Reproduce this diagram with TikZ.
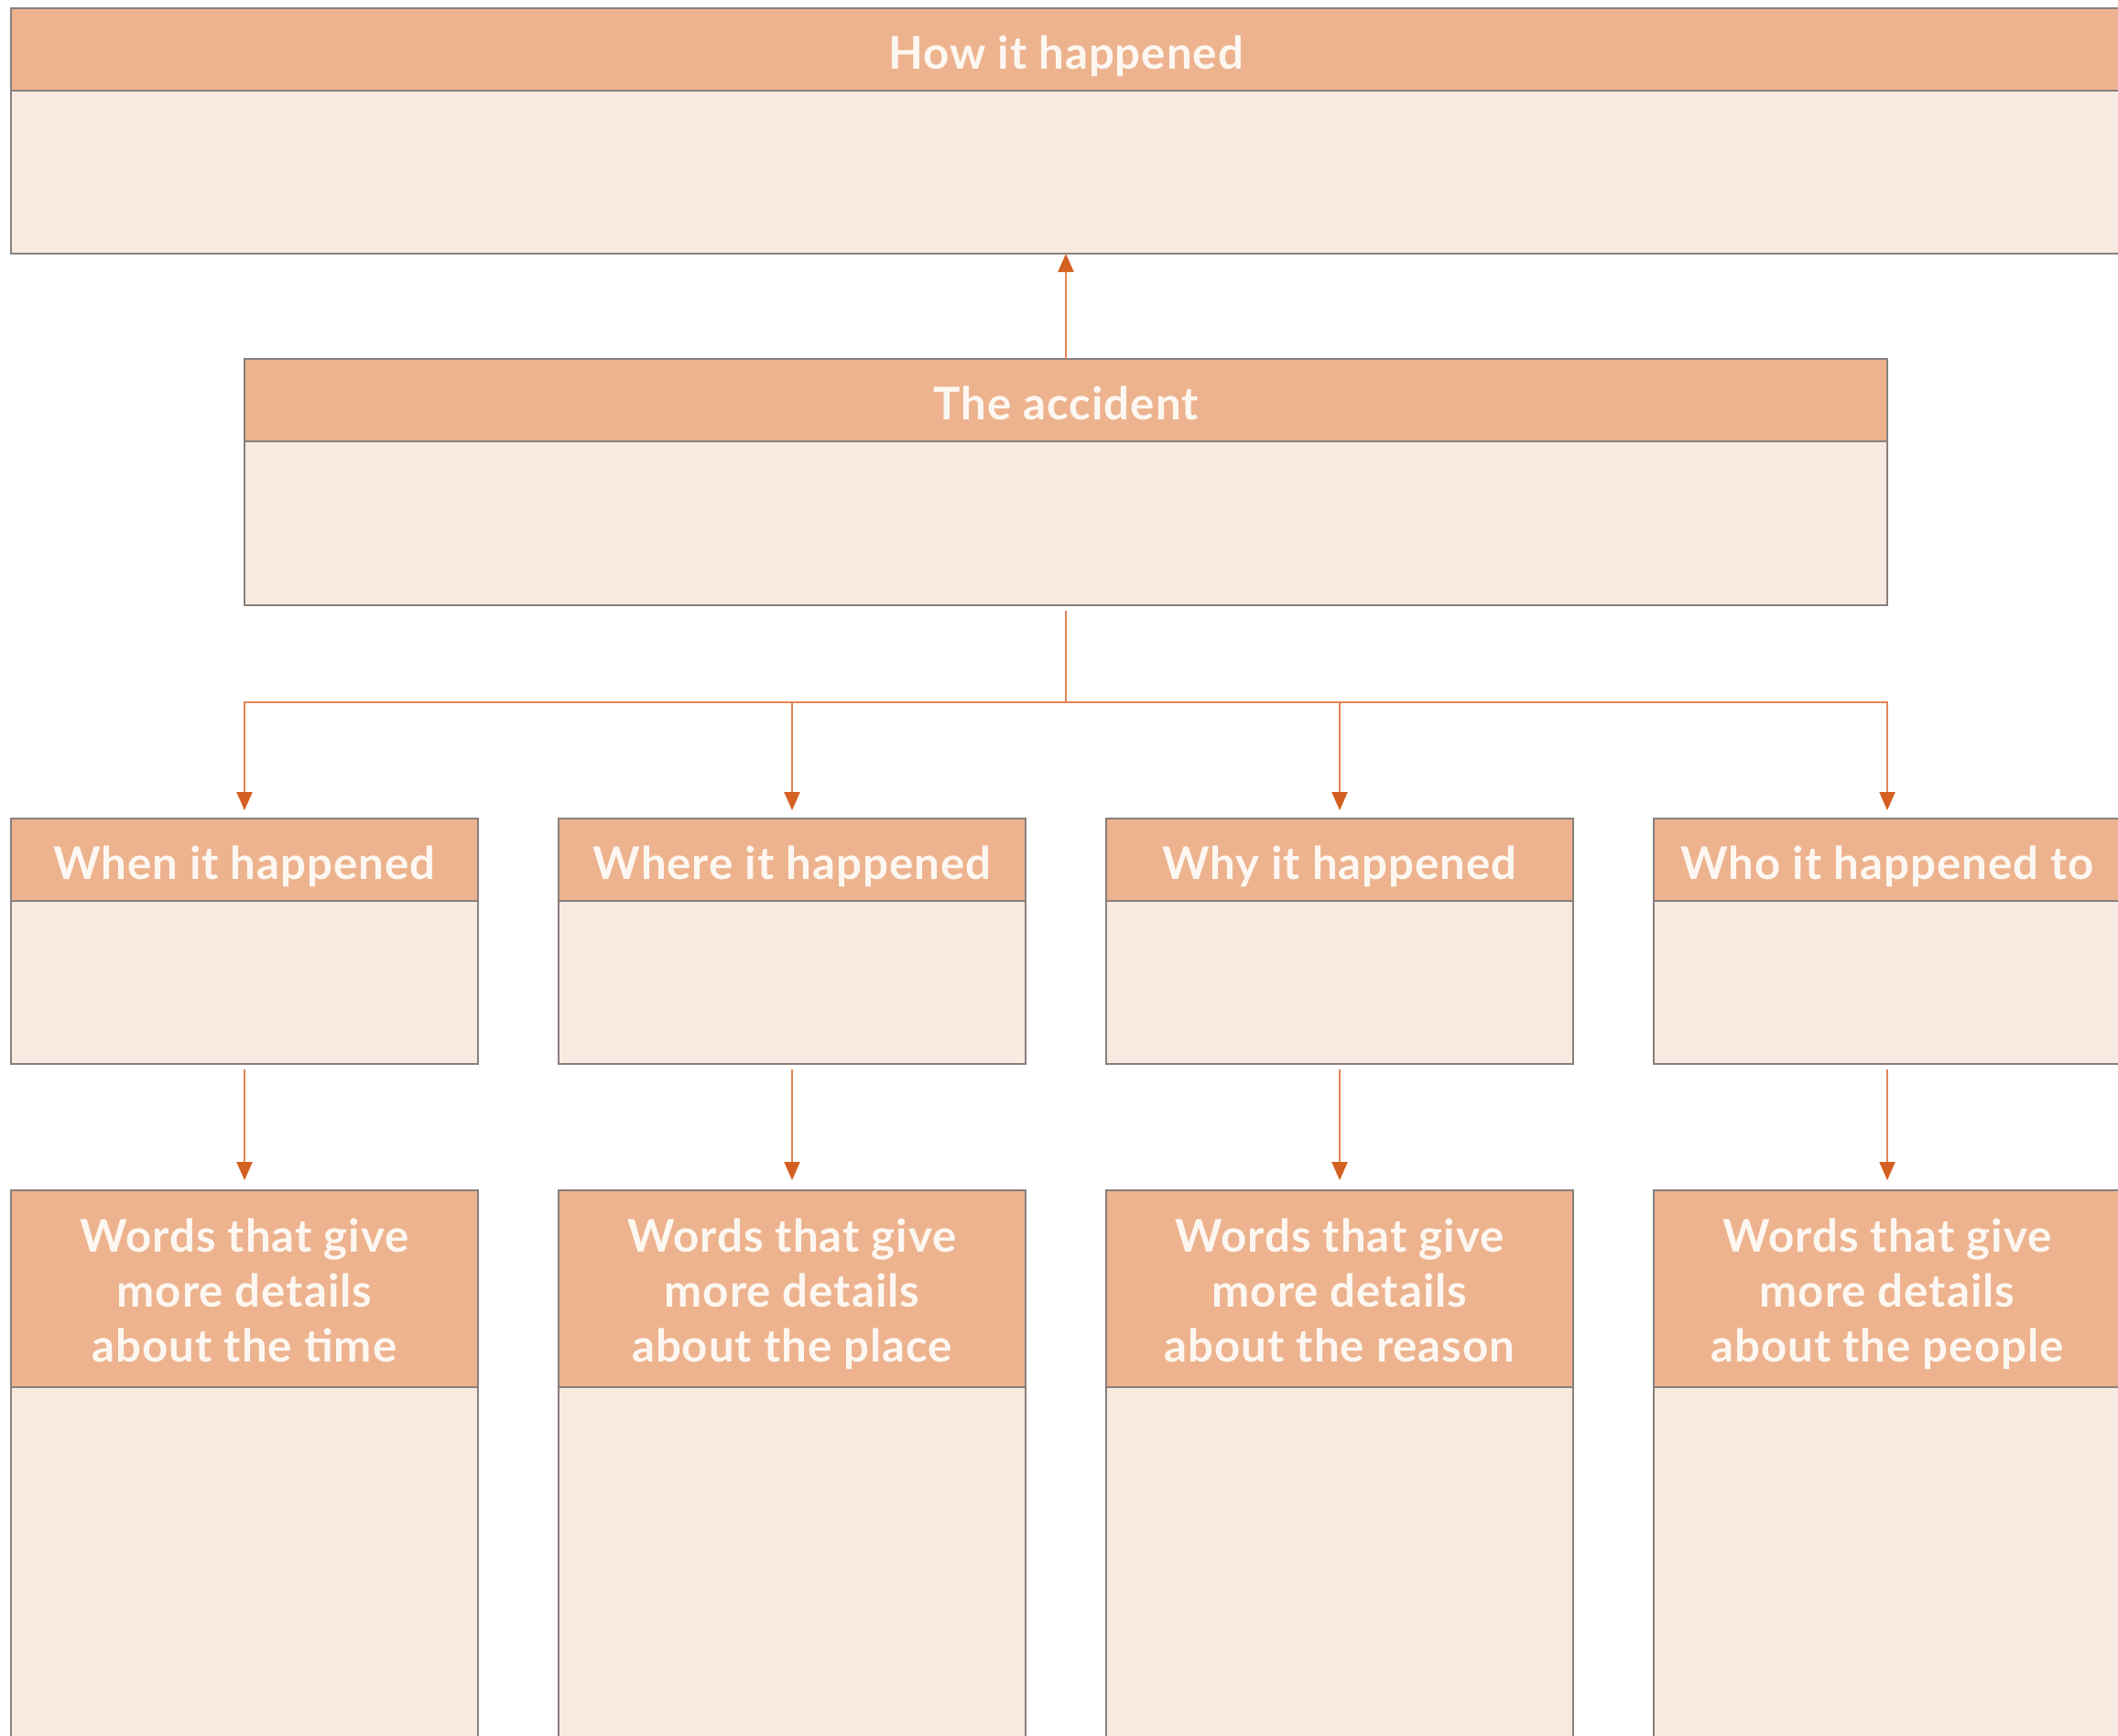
\documentclass[tikz,border=0pt]{standalone}
\usepackage{fontspec}
\setmainfont{Lato}[LetterSpace=2]
\usetikzlibrary{positioning,arrows.meta}
\definecolor{headfill}{RGB}{237,179,142}
\definecolor{bodyfill}{RGB}{248,234,224}
\definecolor{framegray}{RGB}{135,128,126}
\definecolor{linkorange}{RGB}{226,134,86}
\definecolor{tiporange}{RGB}{212,96,33}
\definecolor{headtext}{RGB}{253,247,241}
\tikzset{head node/.style={rectangle,draw=framegray,fill=headfill,line width=0.6pt,outer sep=0pt,inner sep=0pt,
    text=headtext,font=\bfseries\fontsize{14}{17}\selectfont,align=center,minimum height=0.9cm,
    text height=13pt,text depth=1pt},
  tall head/.style={head node,minimum height=2.15cm,text height=46.4pt,text depth=1pt},
  body node/.style={rectangle,draw=framegray,fill=bodyfill,line width=0.6pt,outer sep=0pt,inner sep=0pt},
  link/.style={draw=linkorange,line width=0.6pt,-{Triangle[length=0.2cm,width=0.17cm,color=tiporange]}},
}

\begin{document}
\begin{tikzpicture}[node distance = 0.88cm]
	\clip (0,0) rectangle (23.13,-18.95);
	\fill[white] (0,0) rectangle (23.13,-18.95);
	
	\node[head node,minimum width=23.04cm] (how) at (11.64,-0.54) {How it happened};
	\node[body node,minimum width=23.04cm,minimum height=1.78cm,below=0pt of how] (howbody) {};
	
	\node[head node,minimum width=17.94cm,below=1.15cm of howbody] (acc) {The accident};
	\node[body node,minimum width=17.94cm,minimum height=1.79cm,below=0pt of acc] (accbody) {};
	\coordinate[below=1.06cm of accbody] (bus);
	
	\node[head node,minimum width=5.1cm] (when) at (2.67,-9.39) {When it happened};
	\node[head node,minimum width=5.1cm,right=of when] (where) {Where it happened};
	\node[head node,minimum width=5.1cm,right=of where] (why) {Why it happened};
	\node[head node,minimum width=5.1cm,right=of why] (who) {Who it happened to};
	\node[body node,minimum width=5.1cm,minimum height=1.78cm,below=0pt of when] (whenbody) {};
	\node[body node,minimum width=5.1cm,minimum height=1.78cm,below=0pt of where] (wherebody) {};
	\node[body node,minimum width=5.1cm,minimum height=1.78cm,below=0pt of why] (whybody) {};
	\node[body node,minimum width=5.1cm,minimum height=1.78cm,below=0pt of who] (whobody) {};
	
	\node[tall head,minimum width=5.1cm,below=1.38cm of whenbody] (time) {Words that give\\more details\\about the time};
	\node[tall head,minimum width=5.1cm,below=1.38cm of wherebody] (place) {Words that give\\more details\\about the place};
	\node[tall head,minimum width=5.1cm,below=1.38cm of whybody] (reason) {Words that give\\more details\\about the reason};
	\node[tall head,minimum width=5.1cm,below=1.38cm of whobody] (people) {Words that give\\more details\\about the people};
	\node[body node,minimum width=5.1cm,minimum height=5cm,below=0pt of time] (timebody) {};
	\node[body node,minimum width=5.1cm,minimum height=5cm,below=0pt of place] (placebody) {};
	\node[body node,minimum width=5.1cm,minimum height=5cm,below=0pt of reason] (reasonbody) {};
	\node[body node,minimum width=5.1cm,minimum height=5cm,below=0pt of people] (peoplebody) {};
	
	\draw[link] (acc.north) -- (howbody.south);
	\draw[link,shorten <=0.06cm,shorten >=0.09cm] (accbody.south) -- (bus) -| (when.north);
	\draw[link,shorten <=0.06cm,shorten >=0.09cm] (accbody.south) -- (bus) -| (where.north);
	\draw[link,shorten <=0.06cm,shorten >=0.09cm] (accbody.south) -- (bus) -| (why.north);
	\draw[link,shorten <=0.06cm,shorten >=0.09cm] (accbody.south) -- (bus) -| (who.north);
	\draw[link,shorten <=0.06cm,shorten >=0.11cm] (whenbody) -- (time);
	\draw[link,shorten <=0.06cm,shorten >=0.11cm] (wherebody) -- (place);
	\draw[link,shorten <=0.06cm,shorten >=0.11cm] (whybody) -- (reason);
	\draw[link,shorten <=0.06cm,shorten >=0.11cm] (whobody) -- (people);
\end{tikzpicture}
\end{document}
